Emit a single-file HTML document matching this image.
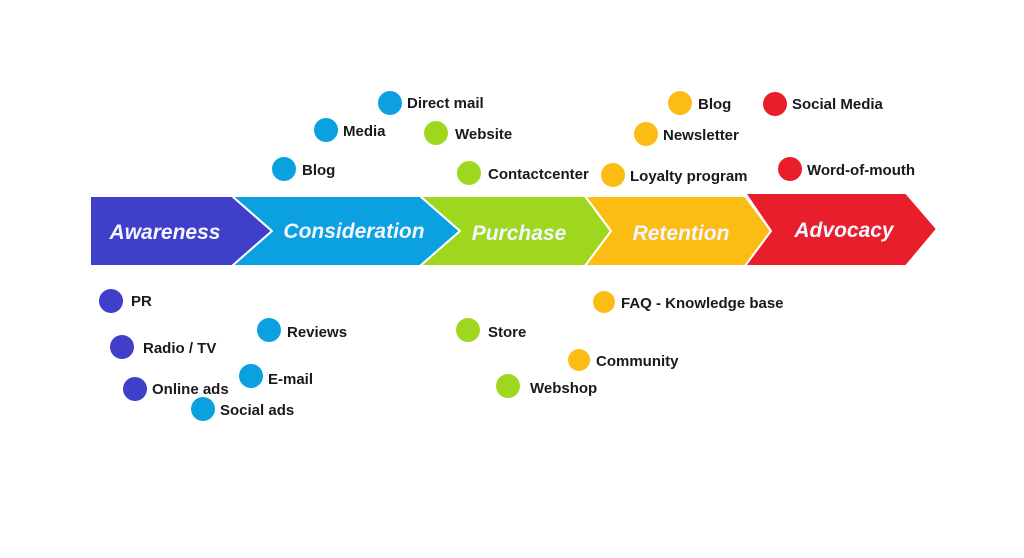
<!DOCTYPE html>
<html><head><meta charset="utf-8"><style>
html,body{margin:0;padding:0;background:#fff;width:1024px;height:558px;overflow:hidden}
svg{display:block}
.s{font-family:"Liberation Sans",sans-serif;font-weight:bold;font-style:italic;font-size:21px;fill:#f4f6ff}
.l{font-family:"Liberation Sans",sans-serif;font-weight:bold;font-size:15px;fill:#1a1a1a}
</style></head><body>
<svg width="1024" height="558" viewBox="0 0 1024 558">
<g stroke="#fff" stroke-width="2" stroke-linejoin="round">
<polygon points="90,196 232,196 272,231 232,266 90,266" fill="#3f3fc9"/>
<polygon points="232,196 420,196 460,231 420,266 232,266 272,231" fill="#0ba0e0"/>
<polygon points="420,196 585,196 611,231 585,266 420,266 460,231" fill="#9fd71f"/>
<polygon points="585,196 745,196 771,231 745,266 585,266 611,231" fill="#fbbd14"/>
<polygon points="745,193 906,193 937,229 906,266 745,266 771,231" fill="#e81f2a"/>
</g>
<g text-anchor="middle">
<text class="s" x="165" y="239">Awareness</text>
<text class="s" x="354" y="238">Consideration</text>
<text class="s" x="519" y="240">Purchase</text>
<text class="s" x="681" y="240">Retention</text>
<text class="s" x="844" y="237">Advocacy</text>
</g>
<g>
<circle cx="390" cy="103" r="12" fill="#0ba0e0"/><text class="l" x="407" y="108">Direct mail</text>
<circle cx="326" cy="130" r="12" fill="#0ba0e0"/><text class="l" x="343" y="136">Media</text>
<circle cx="436" cy="133" r="12" fill="#9fd71f"/><text class="l" x="455" y="139">Website</text>
<circle cx="284" cy="169" r="12" fill="#0ba0e0"/><text class="l" x="302" y="175">Blog</text>
<circle cx="469" cy="173" r="12" fill="#9fd71f"/><text class="l" x="488" y="179">Contactcenter</text>
<circle cx="680" cy="103" r="12" fill="#fbbd14"/><text class="l" x="698" y="109">Blog</text>
<circle cx="646" cy="134" r="12" fill="#fbbd14"/><text class="l" x="663" y="140">Newsletter</text>
<circle cx="613" cy="175" r="12" fill="#fbbd14"/><text class="l" x="630" y="181">Loyalty program</text>
<circle cx="775" cy="104" r="12" fill="#e81f2a"/><text class="l" x="792" y="109">Social Media</text>
<circle cx="790" cy="169" r="12" fill="#e81f2a"/><text class="l" x="807" y="175">Word-of-mouth</text>
<circle cx="111" cy="301" r="12" fill="#3f3fc9"/><text class="l" x="131" y="306">PR</text>
<circle cx="122" cy="347" r="12" fill="#3f3fc9"/><text class="l" x="143" y="353">Radio / TV</text>
<circle cx="135" cy="389" r="12" fill="#3f3fc9"/><text class="l" x="152" y="394">Online ads</text>
<circle cx="203" cy="409" r="12" fill="#0ba0e0"/><text class="l" x="220" y="415">Social ads</text>
<circle cx="251" cy="376" r="12" fill="#0ba0e0"/><text class="l" x="268" y="384">E-mail</text>
<circle cx="269" cy="330" r="12" fill="#0ba0e0"/><text class="l" x="287" y="337">Reviews</text>
<circle cx="468" cy="330" r="12" fill="#9fd71f"/><text class="l" x="488" y="337">Store</text>
<circle cx="508" cy="386" r="12" fill="#9fd71f"/><text class="l" x="530" y="393">Webshop</text>
<circle cx="604" cy="302" r="11" fill="#fbbd14"/><text class="l" x="621" y="308">FAQ - Knowledge base</text>
<circle cx="579" cy="360" r="11" fill="#fbbd14"/><text class="l" x="596" y="366">Community</text>
</g>
</svg>
</body></html>
